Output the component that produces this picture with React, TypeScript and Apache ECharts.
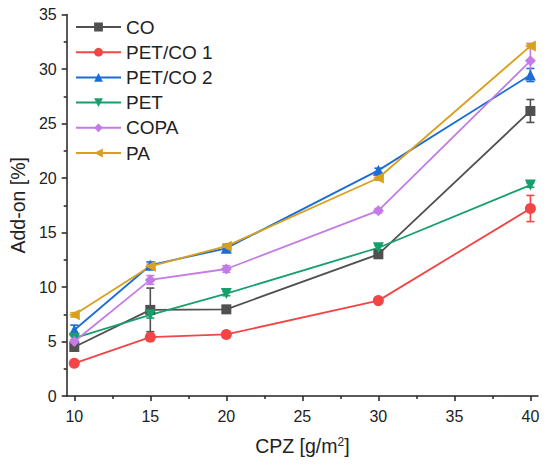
import React, { useEffect, useRef } from "react";
import * as echarts from "echarts";

const xValues = [10, 15, 20, 30, 40];
const seriesNames = ["CO", "PET/CO 1", "PET/CO 2", "PET", "COPA", "PA"];
const coValues = [4.5, 7.9, 7.95, 13.0, 26.15];
const petCo1Values = [3.0, 5.4, 5.65, 8.75, 17.2];
const petCo2Values = [6.05, 12.0, 13.55, 20.7, 29.45];
const petValues = [5.3, 7.45, 9.4, 13.6, 19.35];
const copaValues = [5.0, 10.65, 11.65, 17.0, 30.75];
const paValues = [7.45, 11.9, 13.75, 20.0, 32.1];
const coErrors = [0.35, 2.0, 0.3, 0.3, 1.05];
const petCo1Errors = [0.2, 0.3, 0.2, 0.2, 1.2];
const petCo2Errors = [0.45, 0.3, 0.3, 0.2, 0.6];
const petErrors = [0.2, 0.3, 0.2, 0.2, 0.2];
const copaErrors = [0.2, 0.4, 0.3, 0.2, 1.6];
const paErrors = [0.2, 0.2, 0.2, 0.2, 0.2];
const xTicks = [10, 15, 20, 25, 30, 35, 40];
const xMinorTicks = [12.5, 17.5, 22.5, 27.5, 32.5, 37.5];

const allValues = [coValues, petCo1Values, petCo2Values, petValues, copaValues, paValues];
const allErrors = [coErrors, petCo1Errors, petCo2Errors, petErrors, copaErrors, paErrors];
const colors = ["#505050", "#f24545", "#1c6cd8", "#17a06c", "#c47be6", "#d9a01e"];
const symbols = ["rect", "circle", "triangle", "triangle", "diamond", "triangle"];
const rotations = [0, 0, 0, 180, 0, 90];

const FONT = "Arial, 'Liberation Sans', sans-serif";

export default function App() {
  const ref = useRef<HTMLDivElement>(null);
  useEffect(() => {
    if (!ref.current) return;
    const chart = echarts.init(ref.current, undefined, { renderer: "svg" });
    const lineSeries = seriesNames.map((name, i) => ({
      name,
      type: "line",
      xAxisIndex: 0,
      yAxisIndex: 0,
      data: xValues.map((x, j) => [x, allValues[i][j]]),
      symbol: symbols[i],
      symbolRotate: rotations[i],
      symbolSize: i === 0 ? 10 : 11,
      showSymbol: true,
      lineStyle: { color: colors[i], width: 1.8 },
      itemStyle: { color: colors[i] },
      z: 3,
    }));
    const errorSeries = seriesNames.map((name, i) => ({
      name: name + "-err",
      type: "custom",
      xAxisIndex: 0,
      yAxisIndex: 0,
      data: xValues.map((x, j) => [x, allValues[i][j] - allErrors[i][j], allValues[i][j] + allErrors[i][j]]),
      renderItem: (params: any, api: any) => {
        const x = api.value(0);
        const lo = api.coord([x, api.value(1)]);
        const hi = api.coord([x, api.value(2)]);
        const w = 4;
        const style = { stroke: colors[i], lineWidth: 1.6 };
        return {
          type: "group",
          children: [
            { type: "line", shape: { x1: lo[0], y1: lo[1], x2: hi[0], y2: hi[1] }, style },
            { type: "line", shape: { x1: lo[0] - w, y1: lo[1], x2: lo[0] + w, y2: lo[1] }, style },
            { type: "line", shape: { x1: hi[0] - w, y1: hi[1], x2: hi[0] + w, y2: hi[1] }, style },
          ],
        };
      },
      z: 2,
      silent: true,
    }));
    chart.setOption({
      animation: false,
      backgroundColor: "#ffffff",
      textStyle: { fontFamily: FONT },
      grid: { left: 64, right: 12, top: 14.5, bottom: 70, containLabel: false },
      legend: {
        data: seriesNames,
        orient: "vertical",
        left: 70,
        top: 12,
        itemWidth: 45,
        itemHeight: 11,
        itemGap: 5.2,
        textStyle: { fontSize: 19, color: "#222", fontFamily: FONT, lineHeight: 20 },
      },
      xAxis: [
        {
          type: "value",
          min: 9.5,
          max: 40.5,
          position: "bottom",
          name: "CPZ [g/m{sup|2}]",
          nameLocation: "middle",
          nameGap: 40,
          nameTextStyle: {
            fontSize: 19.5,
            color: "#222",
            fontFamily: FONT,
            rich: {
              sup: { fontSize: 12, color: "#222", fontFamily: FONT, verticalAlign: "top", padding: [0, 0, 8, 0] },
            },
          },
          axisLine: { show: true, onZero: false, lineStyle: { color: "#222", width: 1.5 } },
          axisTick: { show: true, inside: false, length: 5, customValues: xTicks, lineStyle: { color: "#222", width: 1.5 } },
          axisLabel: { show: true, customValues: xTicks, margin: 12, fontSize: 16, color: "#222", fontFamily: FONT },
          splitLine: { show: false },
        },
        {
          type: "value",
          min: 9.5,
          max: 40.5,
          position: "bottom",
          axisLine: { show: false, onZero: false },
          axisTick: { show: true, inside: false, length: 3, customValues: xMinorTicks, lineStyle: { color: "#222", width: 1.5 } },
          axisLabel: { show: false },
          splitLine: { show: false },
        },
      ],
      yAxis: {
        type: "value",
        min: 0,
        max: 35,
        interval: 5,
        name: "Add-on [%]",
        nameLocation: "middle",
        nameGap: 35,
        nameTextStyle: { fontSize: 19.5, color: "#222", fontFamily: FONT },
        axisLine: { show: true, lineStyle: { color: "#222", width: 1.5 } },
        axisTick: { show: true, inside: false, length: 5, lineStyle: { color: "#222", width: 1.5 } },
        minorTick: { show: true, splitNumber: 2, length: 3, lineStyle: { color: "#222", width: 1.5 } },
        axisLabel: { margin: 10, fontSize: 16, color: "#222", fontFamily: FONT },
        splitLine: { show: false },
        minorSplitLine: { show: false },
      },
      series: [...errorSeries, ...lineSeries],
    });
    return () => chart.dispose();
  }, []);
  return <div ref={ref} style={{ position: "fixed", left: 0, top: 0, width: 550, height: 466 }} />;
}
